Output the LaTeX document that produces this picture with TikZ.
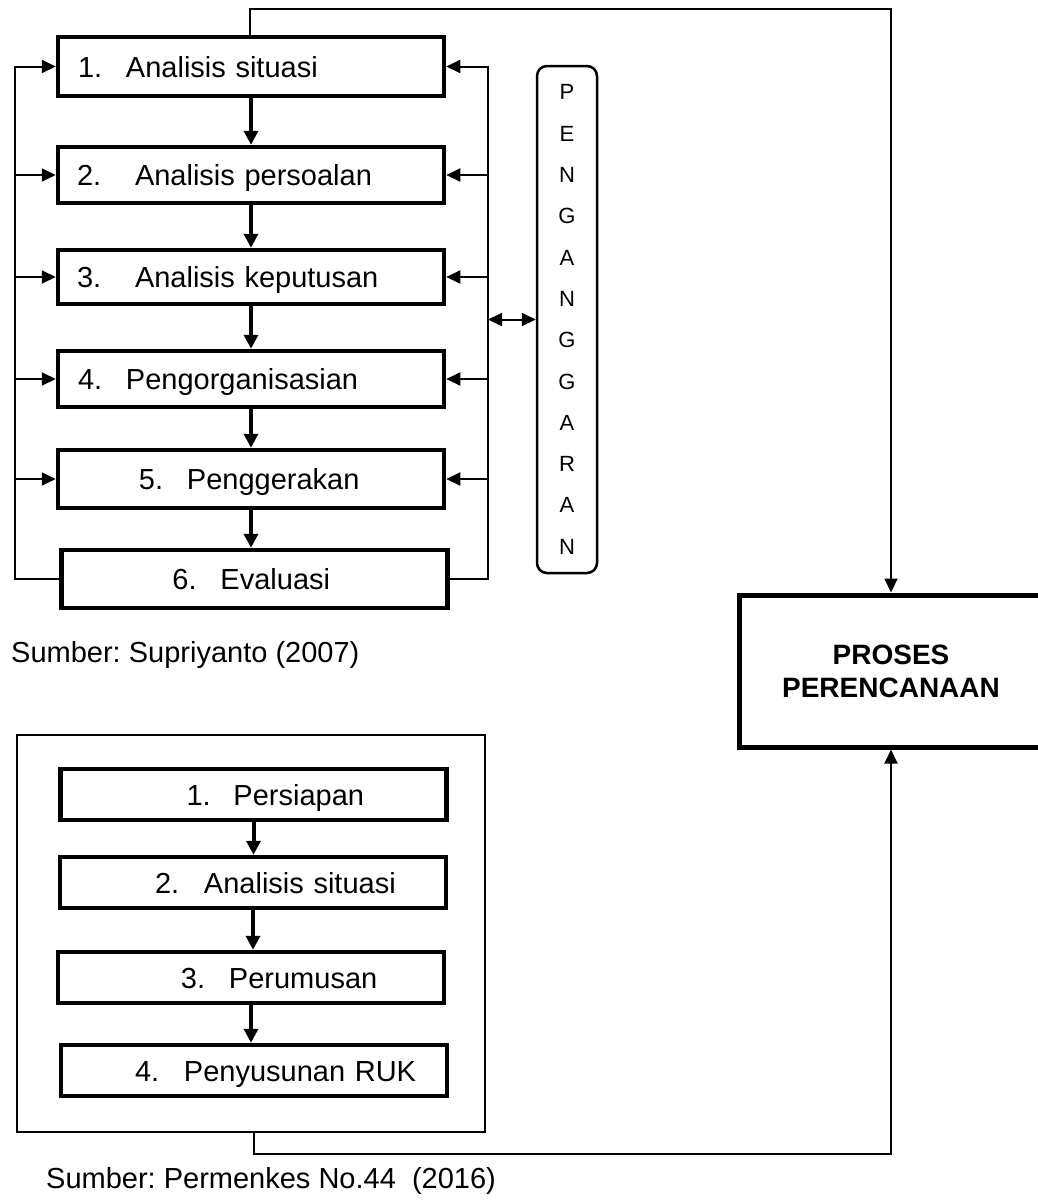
\documentclass[tikz,border=0pt]{standalone}
\usepackage{fontspec}
\setmainfont{Liberation Sans}
\usetikzlibrary{arrows.meta}
\frenchspacing

\newcommand{\boxlabel}[4]{\hspace*{#1pt}\makebox[#2pt][l]{#3}#4}

\tikzset{
    stepbox/.style={draw, line width=4.5pt, inner sep=0pt, minimum width=386pt,
        text width=386pt, align=left, text height=23pt, text depth=2pt,
        font=\fontsize{29}{34}\selectfont},
    link/.style={line width=2pt},
    flow/.style={line width=4pt, -{Triangle[length=14pt,width=14pt]}},
    tip/.style={-{Triangle[length=14pt,width=13pt]}},
}

\begin{document}
\begin{tikzpicture}[x=1pt,y=-1pt]
    \useasboundingbox (0,0) rectangle (1038,1203);

    % langkah menurut Supriyanto
    \node[stepbox, minimum height=59pt] (s1) at (251,66.5) {\boxlabel{20}{48}{1.}{Analisis situasi}};
    \node[stepbox, minimum height=56pt] (s2) at (251,175) {\boxlabel{19}{58}{2.}{Analisis persoalan}};
    \node[stepbox, minimum height=54pt] (s3) at (251,277) {\boxlabel{19}{58}{3.}{Analisis keputusan}};
    \node[stepbox, minimum height=56pt] (s4) at (251,379) {\boxlabel{20}{48}{4.}{Pengorganisasian}};
    \node[stepbox, minimum height=58pt] (s5) at (251,479) {\boxlabel{81}{48}{5.}{Penggerakan}};
    \node[stepbox, minimum height=58pt] (s6) at (254.5,579) {\boxlabel{111}{48}{6.}{Evaluasi}};

    \foreach \a/\b in {s1/s2,s2/s3,s3/s4,s4/s5,s5/s6}
        \draw[flow] (\a.south) -- (\a.south |- \b.north);

    \coordinate (lft) at (15,0);
    \coordinate (rgt) at (488,0);

    \draw[link,tip] (s6.west) -- (lft |- s6.west) -- (lft |- s1.west) -- (s1.west);
    \draw[link,tip] (s6.east) -- (rgt |- s6.east) -- (rgt |- s1.east) -- (s1.east);
    \foreach \i in {2,...,5} {
        \draw[link,tip] (lft |- s\i.west) -- (s\i.west);
        \draw[link,tip] (rgt |- s\i.east) -- (s\i.east);
    }

    \node[draw, line width=2.5pt, rounded corners=10pt, minimum width=60pt,
        minimum height=507pt, inner sep=0pt, align=center,
        font=\fontsize{22}{41.3}\selectfont] (pang) at (567,319.5)
        {P\\E\\N\\G\\A\\N\\G\\G\\A\\R\\A\\N};
    \draw[link,{Triangle[length=14pt,width=13pt]}-{Triangle[length=14pt,width=13pt]}]
        (rgt |- pang.west) -- (pang.west);

    \node[anchor=base west, inner sep=0pt, font=\fontsize{29}{34}\selectfont] (src1)
        at (11,662) {Sumber: Supriyanto (2007)};

    % proses perencanaan
    \node[draw, line width=5pt, minimum width=304pt, minimum height=152pt, inner sep=0pt,
        align=center, font=\fontsize{28}{33}\selectfont\bfseries] (proses) at (891,671)
        {PROSES\\PERENCANAAN};

    \coordinate (top) at (250,9);
    \draw[link,tip] (top |- s1.north) -- (top) -| (proses.north);

    % langkah menurut Permenkes
    \node[draw, line width=2pt, minimum width=468pt, minimum height=397pt, inner sep=0pt]
        (frame) at (251,933.5) {};

    \node[stepbox, minimum height=51pt] (p1) at (253.5,794.5) {\boxlabel{126}{47}{1.}{Persiapan}};
    \node[stepbox, minimum height=51pt] (p2) at (253,882.5) {\boxlabel{95}{49}{2.}{Analisis situasi}};
    \node[stepbox, minimum height=51pt] (p3) at (251,977.5) {\boxlabel{123}{48}{3.}{Perumusan}};
    \node[stepbox, minimum height=51pt] (p4) at (254,1070.5) {\boxlabel{74}{49}{4.}{Penyusunan RUK}};

    \foreach \a/\b in {p1/p2,p2/p3,p3/p4}
        \draw[flow] (\a.south) -- (\a.south |- \b.north);

    \coordinate (bot) at (254,1154);
    \draw[link,tip] (bot |- frame.south) -- (bot) -| (proses.south);

    \node[anchor=base west, inner sep=0pt, font=\fontsize{29}{34}\selectfont] (src2)
        at (46,1188) {Sumber: Permenkes No.44~~(2016)};

\end{tikzpicture}
\end{document}
